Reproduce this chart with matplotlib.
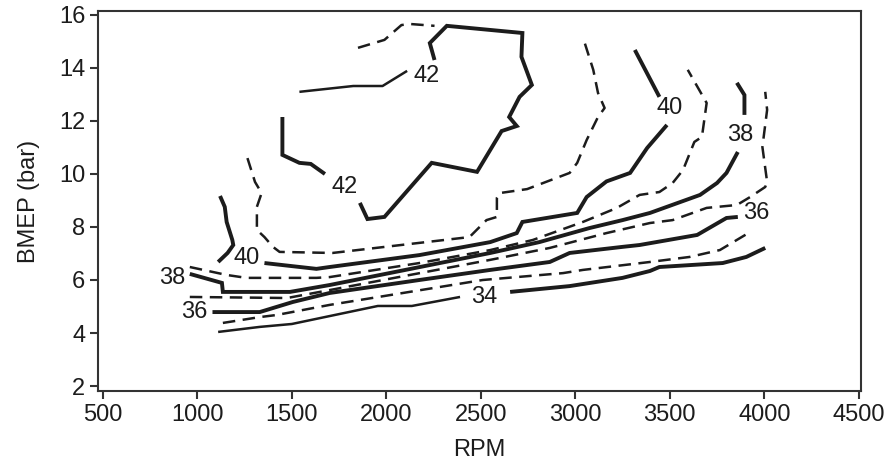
import matplotlib
matplotlib.use("Agg")
from matplotlib import pyplot as plt

plt.rcParams['font.family'] = ['Liberation Sans', 'DejaVu Sans']

# contour traces: rpm, bmep (bar)
c42a_rpm = [1450, 1450, 1540, 1600, 1675]
c42a_bmep = [12.15, 10.72, 10.42, 10.38, 10.00]
c42b_rpm = [1860, 1900, 1990, 2240, 2480, 2610, 2690, 2650, 2705, 2770, 2715, 2720, 2320, 2230, 2255]
c42b_bmep = [8.91, 8.30, 8.38, 10.42, 10.08, 11.62, 11.81, 12.15, 12.91, 13.36, 14.42, 15.32, 15.59, 14.94, 14.30]
c42c_rpm = [2110, 1980, 1825, 1540]
c42c_bmep = [13.89, 13.32, 13.32, 13.10]

d41a_rpm = [1850, 1990, 2080, 2125, 2255]
d41a_bmep = [14.76, 15.06, 15.62, 15.66, 15.59]
d41b_rpm = [1265, 1305, 1340, 1315, 1315, 1355, 1400, 1435, 1715, 2440, 2530, 2585, 2585, 2600,
            2745, 2970, 3010, 3060, 3120, 3155, 3120, 3095, 3050]
d41b_bmep = [10.60, 9.70, 9.28, 8.76, 7.89, 7.62, 7.25, 7.06, 7.02, 7.62, 8.26, 8.38, 9.10, 9.28,
             9.43, 10.04, 10.42, 11.28, 12.15, 12.49, 13.06, 13.93, 14.94]

c40a_rpm = [1120, 1145, 1155, 1185, 1190, 1160, 1110]
c40a_bmep = [9.17, 8.76, 8.19, 7.51, 7.32, 7.02, 6.68]
c40b_rpm = [1355, 1630, 1700, 2175, 2550, 2690, 2720, 3010, 3060, 3165, 3290, 3380, 3485]
c40b_bmep = [6.64, 6.42, 6.49, 6.94, 7.43, 7.77, 8.19, 8.53, 9.13, 9.72, 10.04, 10.98, 11.85]
c40c_rpm = [3445, 3315]
c40c_bmep = [12.91, 14.68]

d39_rpm = [960, 1155, 1260, 1630, 1700, 2175, 2550, 2775, 3040, 3220, 3340, 3445, 3515, 3570,
           3630, 3670, 3695, 3595]
d39_bmep = [6.49, 6.19, 6.08, 6.08, 6.11, 6.64, 7.13, 7.51, 8.19, 8.72, 9.21, 9.32, 9.66, 10.15,
            11.21, 11.40, 12.68, 13.93]

c38a_rpm = [960, 1130, 1135, 1490, 1700, 2550, 2810, 3075, 3250, 3395, 3660, 3750, 3800, 3860]
c38a_bmep = [6.23, 5.89, 5.55, 5.55, 5.81, 7.02, 7.43, 7.96, 8.26, 8.53, 9.21, 9.66, 10.04, 10.83]
c38b_rpm = [3895, 3895, 3855]
c38b_bmep = [12.23, 12.98, 13.44]

d37_rpm = [960, 1475, 1700, 2550, 2865, 3165, 3395, 3515, 3695, 3855, 3925, 4005, 4015, 3990, 4015, 4005]
d37_bmep = [5.36, 5.32, 5.62, 6.76, 7.21, 7.77, 8.15, 8.26, 8.72, 8.83, 9.13, 9.51, 9.70, 11.02, 12.42, 13.10]

c36_rpm = [1080, 1330, 1505, 1700, 2175, 2550, 2865, 2970, 3250, 3340, 3645, 3800, 3860]
c36_bmep = [4.79, 4.79, 5.17, 5.51, 6.00, 6.38, 6.68, 7.02, 7.25, 7.32, 7.70, 8.34, 8.38]

d35_rpm = [1135, 1330, 1420, 1700, 2510, 2935, 3040, 3395, 3605, 3765, 3925]
d35_bmep = [4.38, 4.60, 4.68, 5.06, 6.00, 6.26, 6.38, 6.68, 6.87, 7.13, 7.81]

c34a_rpm = [1110, 1330, 1500, 1955, 2135, 2390]
c34a_bmep = [4.04, 4.23, 4.34, 5.02, 5.02, 5.36]
c34b_rpm = [2655, 2970, 3250, 3395, 3445, 3780, 3905, 4005]
c34b_bmep = [5.55, 5.77, 6.08, 6.34, 6.49, 6.64, 6.87, 7.21]

# inline labels
lab_text = ['42', '42', '40', '40', '38', '38', '36', '36', '34']
lab_rpm = [1780, 2215, 1262, 3500, 865, 3870, 985, 3960, 2520]
lab_bmep = [9.51, 13.70, 6.83, 12.49, 6.08, 11.47, 4.79, 8.53, 5.36]

x_ticks = [500, 1000, 1500, 2000, 2500, 3000, 3500, 4000, 4500]
y_ticks = [2, 4, 6, 8, 10, 12, 14, 16]

ink = '#1c1c1c'
thick = dict(color=ink, lw=2.8, solid_capstyle='butt', solid_joinstyle='miter')
thin = dict(color=ink, lw=1.8, solid_capstyle='butt')
dash = dict(color=ink, lw=1.8, ls=(0, (5, 3)), dash_capstyle='butt')

fig = plt.figure(figsize=(8.93, 4.70), dpi=100)
ax = fig.add_axes([0.1097, 0.168, 0.8543, 0.8086])

ax.plot(c42a_rpm, c42a_bmep, **thick)
ax.plot(c42b_rpm, c42b_bmep, **thick)
ax.plot(c42c_rpm, c42c_bmep, **thin)
ax.plot(d41a_rpm, d41a_bmep, **dash)
ax.plot(d41b_rpm, d41b_bmep, **dash)
ax.plot(c40a_rpm, c40a_bmep, **thick)
ax.plot(c40b_rpm, c40b_bmep, **thick)
ax.plot(c40c_rpm, c40c_bmep, **thick)
ax.plot(d39_rpm, d39_bmep, **dash)
ax.plot(c38a_rpm, c38a_bmep, **thick)
ax.plot(c38b_rpm, c38b_bmep, **thick)
ax.plot(d37_rpm, d37_bmep, **dash)
ax.plot(c36_rpm, c36_bmep, **thick)
ax.plot(d35_rpm, d35_bmep, **dash)
ax.plot(c34a_rpm, c34a_bmep, **thin)
ax.plot(c34b_rpm, c34b_bmep, **thick)

for t, xr, yb in zip(lab_text, lab_rpm, lab_bmep):
    ax.text(xr, yb, t, ha='center', va='center', fontsize=17, color=ink)

ax.set_xlim(474, 4511)
ax.set_ylim(1.81, 16.15)
ax.set_xticks(x_ticks)
ax.set_yticks(y_ticks)
ax.tick_params(direction='out', length=6, width=1.5, colors='#333333',
               labelsize=17, labelcolor=ink, pad=3)
for s in ax.spines.values():
    s.set_linewidth(1.5)
    s.set_color('#333333')

ax.set_xlabel('RPM', fontsize=17, color=ink, labelpad=10)
ax.set_ylabel('BMEP (bar)', fontsize=17, color=ink, labelpad=14)

fig.savefig('out.png', dpi=100)
